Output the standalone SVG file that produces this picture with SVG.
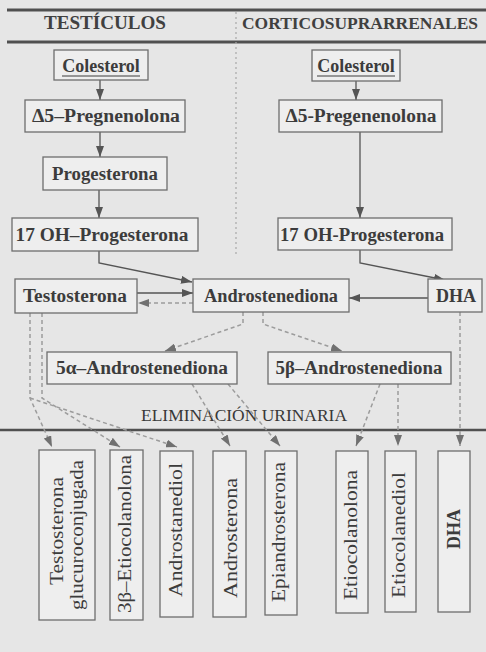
<svg xmlns="http://www.w3.org/2000/svg" width="486" height="652" viewBox="0 0 486 652">
<style>
  .bg{fill:#e6e6e6}
  .box{fill:#eeeeee;stroke:#6e6e6e;stroke-width:1.3}
  .t{font-family:"Liberation Serif","Times New Roman",serif;font-size:18px;font-weight:bold;fill:#3c3c3c;text-anchor:middle}
  .v{font-family:"Liberation Serif","Times New Roman",serif;font-size:18px;fill:#3c3c3c;text-anchor:middle}
  .h{font-family:"Liberation Serif","Times New Roman",serif;font-size:19px;font-weight:bold;fill:#404040}
  .h2{font-family:"Liberation Serif","Times New Roman",serif;font-size:17.3px;font-weight:bold;fill:#404040}
  .lab{font-family:"Liberation Serif","Times New Roman",serif;font-size:16px;fill:#383838;text-anchor:middle}
  .rule{stroke:#505050;stroke-width:3;fill:none}
  .sol{stroke:#555;stroke-width:1.3;fill:none;marker-end:url(#ah)}
  .dsh{stroke:#9c9c9c;stroke-width:1.5;stroke-dasharray:4 3;fill:none;marker-end:url(#ahd)}
  .ul{stroke:#3c3c3c;stroke-width:1.2}
</style>
<defs>
  <marker id="ah" markerUnits="userSpaceOnUse" markerWidth="11" markerHeight="8" refX="11" refY="4" orient="auto">
    <path d="M0,0 L11,4 L0,8 Z" fill="#555"/>
  </marker>
  <marker id="ahd" markerUnits="userSpaceOnUse" markerWidth="11" markerHeight="8" refX="11" refY="4" orient="auto">
    <path d="M0,0 L11,4 L0,8 Z" fill="#707070"/>
  </marker>
</defs>
<rect class="bg" x="0" y="0" width="486" height="652"/>

<g id="header">
  <line class="rule" x1="7" y1="10" x2="486" y2="10"/>
  <line class="rule" x1="7" y1="42" x2="486" y2="42"/>
  <line x1="236" y1="12" x2="236" y2="256" stroke="#a8a8a8" stroke-width="1.2" stroke-dasharray="2 3"/>
  <text class="h" x="44" y="29" textLength="122" lengthAdjust="spacingAndGlyphs">TESTÍCULOS</text>
  <text class="h2" x="242" y="29" textLength="236" lengthAdjust="spacingAndGlyphs">CORTICOSUPRARRENALES</text>
  <line x1="0" y1="430" x2="486" y2="430" stroke="#505050" stroke-width="2.5"/>
  <text class="lab" x="244" y="421" textLength="206" lengthAdjust="spacingAndGlyphs">ELIMINACIÓN URINARIA</text>
</g>

<g id="connectors">
  <path class="sol" d="M100,80 V100"/>
  <path class="sol" d="M356,81 V100"/>
  <path class="sol" d="M100,132 V157"/>
  <path class="sol" d="M99,190 V218"/>
  <path class="sol" d="M360,132 V218"/>
  <path class="sol" d="M99,251 V263 L192,282"/>
  <path class="sol" d="M360,250 V263 L445,280"/>
  <path class="sol" d="M137,293 H193"/>
  <path class="sol" d="M428,298 H349"/>
  <path class="dsh" d="M193,303 H138"/>
  <path class="dsh" d="M243,312 V324 L165,351"/>
  <path class="dsh" d="M263,312 V324 L342,351"/>
  <path class="dsh" d="M30,313 V398 L52,447"/>
  <path class="dsh" d="M42,313 V398 L120,447"/>
  <path class="dsh" d="M30,398 L177,447"/>
  <path class="dsh" d="M192,384 L230,446"/>
  <path class="dsh" d="M228,384 L280,446"/>
  <path class="dsh" d="M380,384 L356,446"/>
  <path class="dsh" d="M398,384 V446"/>
  <path class="dsh" d="M460,312 V446"/>
</g>

<g id="n-colesterol-t">
  <rect class="box" x="54" y="50" width="94" height="30"/>
  <text class="t" x="101" y="72">Colesterol</text>
  <line class="ul" x1="62" y1="76" x2="140" y2="76"/>
</g>
<g id="n-colesterol-c">
  <rect class="box" x="312" y="50" width="88" height="31"/>
  <text class="t" x="356" y="72">Colesterol</text>
  <line class="ul" x1="317" y1="76" x2="395" y2="76"/>
</g>
<g id="n-pregnenolona-t">
  <rect class="box" x="25" y="100" width="160" height="32"/>
  <text class="t" x="106" y="122" textLength="148" lengthAdjust="spacingAndGlyphs">Δ5–Pregnenolona</text>
</g>
<g id="n-pregenenolona-c">
  <rect class="box" x="279" y="100" width="163" height="32"/>
  <text class="t" x="361" y="122" textLength="151" lengthAdjust="spacingAndGlyphs">Δ5-Pregenenolona</text>
</g>
<g id="n-progesterona">
  <rect class="box" x="43" y="157" width="124" height="33"/>
  <text class="t" x="105" y="180" textLength="106" lengthAdjust="spacingAndGlyphs">Progesterona</text>
</g>
<g id="n-17oh-t">
  <rect class="box" x="12" y="218" width="186" height="33"/>
  <text class="t" x="102" y="241" textLength="173" lengthAdjust="spacingAndGlyphs">17 OH–Progesterona</text>
</g>
<g id="n-17oh-c">
  <rect class="box" x="278" y="218" width="174" height="32"/>
  <text class="t" x="362" y="241" textLength="164" lengthAdjust="spacingAndGlyphs">17 OH-Progesterona</text>
</g>
<g id="n-testosterona">
  <rect class="box" x="15" y="279" width="122" height="34"/>
  <text class="t" x="75" y="302" textLength="104" lengthAdjust="spacingAndGlyphs">Testosterona</text>
</g>
<g id="n-androstenediona">
  <rect class="box" x="193" y="279" width="156" height="33"/>
  <text class="t" x="271" y="302" textLength="134" lengthAdjust="spacingAndGlyphs">Androstenediona</text>
</g>
<g id="n-dha">
  <rect class="box" x="428" y="279" width="54" height="33"/>
  <text class="t" x="456" y="302">DHA</text>
</g>
<g id="n-5a">
  <rect class="box" x="47" y="352" width="190" height="32"/>
  <text class="t" x="142" y="374" textLength="172" lengthAdjust="spacingAndGlyphs">5α–Androstenediona</text>
</g>
<g id="n-5b">
  <rect class="box" x="268" y="352" width="183" height="32"/>
  <text class="t" x="359" y="374" textLength="167" lengthAdjust="spacingAndGlyphs">5β–Androstenediona</text>
</g>

<g id="n-testosterona-glucuroconjugada">
  <rect class="box" x="39" y="450" width="56" height="170"/>
  <text class="v" transform="translate(63,531) rotate(-90)" textLength="108" lengthAdjust="spacingAndGlyphs">Testosterona</text>
  <text class="v" transform="translate(83,535) rotate(-90)" textLength="150" lengthAdjust="spacingAndGlyphs">glucuroconjugada</text>
</g>
<g id="n-3b-etiocolanolona">
  <rect class="box" x="110" y="450" width="33" height="170"/>
  <text class="v" transform="translate(131,534) rotate(-90)" textLength="158" lengthAdjust="spacingAndGlyphs">3β–Etiocolanolona</text>
</g>
<g id="n-androstanediol">
  <rect class="box" x="160" y="451" width="33" height="166"/>
  <text class="v" transform="translate(182,530) rotate(-90)" textLength="134" lengthAdjust="spacingAndGlyphs">Androstanediol</text>
</g>
<g id="n-androsterona">
  <rect class="box" x="213" y="451" width="33" height="166"/>
  <text class="v" transform="translate(237,538) rotate(-90)" textLength="120" lengthAdjust="spacingAndGlyphs">Androsterona</text>
</g>
<g id="n-epiandrosterona">
  <rect class="box" x="265" y="451" width="32" height="164"/>
  <text class="v" transform="translate(285,532) rotate(-90)" textLength="140" lengthAdjust="spacingAndGlyphs">Epiandrosterona</text>
</g>
<g id="n-etiocolanolona">
  <rect class="box" x="336" y="451" width="32" height="162"/>
  <text class="v" transform="translate(357,535) rotate(-90)" textLength="130" lengthAdjust="spacingAndGlyphs">Etiocolanolona</text>
</g>
<g id="n-etiocolanediol">
  <rect class="box" x="385" y="451" width="31" height="161"/>
  <text class="v" transform="translate(405,535) rotate(-90)" textLength="126" lengthAdjust="spacingAndGlyphs">Etiocolanediol</text>
</g>
<g id="n-dha-urinaria">
  <rect class="box" x="438" y="451" width="32" height="161"/>
  <text class="v" transform="translate(460,529) rotate(-90)" style="font-weight:bold">DHA</text>
</g>
</svg>
